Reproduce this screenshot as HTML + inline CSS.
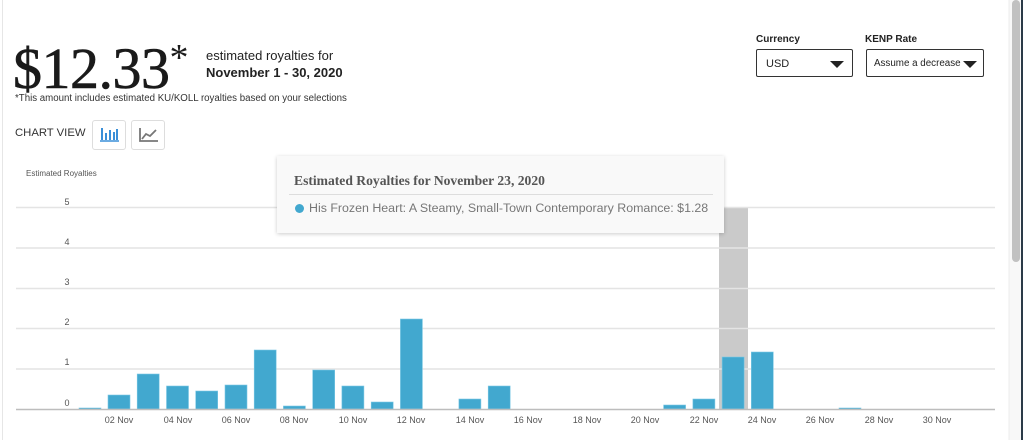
<!DOCTYPE html>
<html><head><meta charset="utf-8"><style>
body{margin:0;width:1023px;height:440px;background:#fff;overflow:hidden;position:relative;font-family:"Liberation Sans",sans-serif}
.abs{position:absolute;white-space:nowrap}
.sel{position:absolute;border:1.5px solid #333;border-radius:2px;height:28px;top:49px;font-size:11px;color:#222;line-height:28px;box-sizing:border-box}
.tri{position:absolute;top:11px;width:0;height:0;border-left:7px solid transparent;border-right:7px solid transparent;border-top:7px solid #222}
.btn{position:absolute;top:120px;width:34px;height:30px;border:1px solid #ddd;border-radius:3px;box-sizing:border-box}
</style></head><body>
<div class="abs" style="left:2px;top:0;width:1px;height:440px;background:#e6e6e6"></div>
<div class="abs" style="left:13px;top:18px;font-family:'Liberation Serif',serif;font-size:58px;color:#1a1a1a;letter-spacing:-0.5px;line-height:80px;-webkit-text-stroke:0.6px #1a1a1a">$12.33<span style="font-size:38px;vertical-align:18px;-webkit-text-stroke:0">*</span></div>
<div class="abs" style="left:206px;top:48px;font-size:13px;color:#222">estimated royalties for</div>
<div class="abs" style="left:206px;top:65px;font-size:13px;color:#222;font-weight:bold">November 1 - 30, 2020</div>
<div class="abs" style="left:15px;top:93px;font-size:9.7px;color:#333">*This amount includes estimated KU/KOLL royalties based on your selections</div>
<div class="abs" style="left:15px;top:127px;font-size:11.3px;color:#333">CHART VIEW</div>
<div class="btn" style="left:92px"><svg width="34" height="30" style="position:absolute;left:-1px;top:-1px"><g stroke="#3a8fd8" stroke-width="2"><line x1="10" y1="8" x2="10" y2="20"/><line x1="14" y1="13" x2="14" y2="20"/><line x1="18" y1="10" x2="18" y2="20"/><line x1="22" y1="12" x2="22" y2="20"/><line x1="25" y1="9" x2="25" y2="20"/><line x1="8" y1="21" x2="27" y2="21" stroke-width="1.5"/></g></svg></div>
<div class="btn" style="left:131px"><svg width="34" height="30" style="position:absolute;left:-1px;top:-1px"><g stroke="#777" stroke-width="1.8" fill="none"><polyline points="9,8 9,21 27,21"/><polyline points="11,19 15,14 19,16 25,10"/></g></svg></div>
<div class="abs" style="left:756px;top:34px;font-size:10px;font-weight:bold;color:#222">Currency</div>
<div class="abs" style="left:865px;top:34px;font-size:10px;font-weight:bold;color:#222">KENP Rate</div>
<div class="sel" style="left:756px;width:97px;padding-left:9px">USD<div class="tri" style="left:73px"></div></div>
<div class="sel" style="left:866px;width:118px;padding-left:7px;font-size:9.8px">Assume a decrease<div class="tri" style="left:96px"></div></div>
<div class="abs" style="left:26px;top:169px;font-size:8px;color:#555">Estimated Royalties</div>
<svg class="abs" style="left:0;top:0" width="1023" height="440">
<rect x="719" y="207" width="29" height="202" fill="#cacaca"/>
<g stroke="#e4e4e4" stroke-width="1.5"><line x1="16" y1="207.5" x2="995" y2="207.5"/><line x1="16" y1="248" x2="995" y2="248"/><line x1="16" y1="288.5" x2="995" y2="288.5"/><line x1="16" y1="328.5" x2="995" y2="328.5"/><line x1="16" y1="369" x2="995" y2="369"/></g>
<g font-size="9" fill="#555" text-anchor="middle" font-family="Liberation Sans,sans-serif"><text x="67" y="205">5</text><text x="67" y="245">4</text><text x="67" y="285">3</text><text x="67" y="325">2</text><text x="67" y="365">1</text><text x="67" y="406">0</text></g>
<g fill="#42a8cf" stroke="#7cc8e4" stroke-width="0.6">
<rect x="79" y="408" width="22" height="1.5"/>
<rect x="108" y="395" width="22" height="14"/>
<rect x="137.2" y="374" width="22" height="35"/>
<rect x="166.5" y="386" width="22" height="23"/>
<rect x="195.7" y="391" width="22" height="18"/>
<rect x="225" y="385" width="22" height="24"/>
<rect x="254.2" y="350" width="22" height="59"/>
<rect x="283.4" y="406" width="22" height="3"/>
<rect x="312.7" y="370" width="22" height="39"/>
<rect x="341.9" y="386" width="22" height="23"/>
<rect x="371.2" y="402" width="22" height="7"/>
<rect x="400.4" y="319" width="22" height="90"/>
<rect x="458.9" y="399" width="22" height="10"/>
<rect x="488.2" y="386" width="22" height="23"/>
<rect x="663.6" y="405" width="22" height="4"/>
<rect x="692.9" y="399" width="22" height="10"/>
<rect x="722.1" y="357" width="22" height="52"/>
<rect x="751.3" y="352" width="22" height="57"/>
<rect x="839" y="408" width="22" height="1.5"/>
</g>
<line x1="16" y1="409.5" x2="995" y2="409.5" stroke="#bdbdbd" stroke-width="1.5"/>
<g font-size="9" fill="#555" text-anchor="middle" font-family="Liberation Sans,sans-serif">
<text x="119" y="423">02 Nov</text><text x="178" y="423">04 Nov</text><text x="236" y="423">06 Nov</text><text x="294" y="423">08 Nov</text><text x="353" y="423">10 Nov</text><text x="411" y="423">12 Nov</text><text x="470" y="423">14 Nov</text><text x="528" y="423">16 Nov</text><text x="587" y="423">18 Nov</text><text x="645" y="423">20 Nov</text><text x="704" y="423">22 Nov</text><text x="762" y="423">24 Nov</text><text x="820" y="423">26 Nov</text><text x="879" y="423">28 Nov</text><text x="937" y="423">30 Nov</text></g>
<rect x="1009" y="0" width="12" height="440" fill="#f8f8f8"/>
<line x1="1009" y1="0" x2="1009" y2="440" stroke="#ececec"/>
<rect x="1012" y="0" width="8" height="262" rx="4" fill="#c1c1c1"/>
<rect x="1021" y="0" width="2" height="440" fill="#2b3a48"/>
</svg>
<div class="abs" style="left:277px;top:156px;width:447px;height:77px;background:#f9f9f9;box-shadow:0 1px 4px rgba(0,0,0,0.2)">
<div class="abs" style="left:17px;top:17px;font-family:'Liberation Serif',serif;font-weight:bold;font-size:13.6px;color:#555">Estimated Royalties for November 23, 2020</div>
<div class="abs" style="left:12px;top:38px;width:424px;height:1px;background:#ddd"></div>
<div class="abs" style="left:18px;top:48px;width:9px;height:9px;border-radius:50%;background:#42a8cf"></div>
<div class="abs" style="left:32px;top:45px;font-size:12.4px;color:#777">His Frozen Heart: A Steamy, Small-Town Contemporary Romance: $1.28</div>
</div>
</body></html>
